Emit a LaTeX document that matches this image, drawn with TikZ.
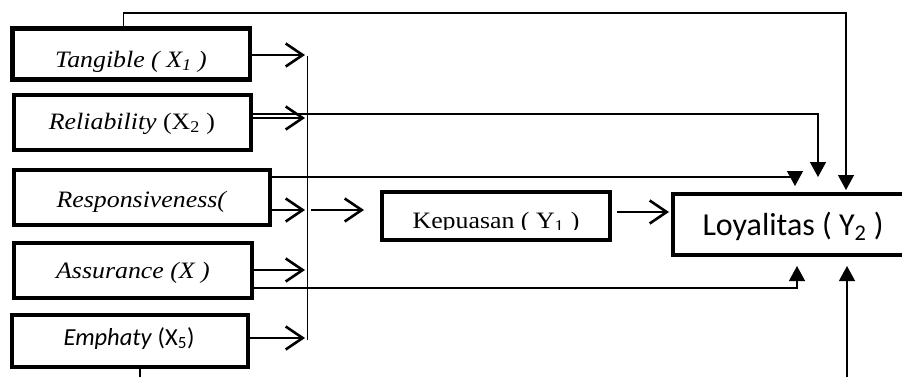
\documentclass[tikz,border=0pt]{standalone}
\usepackage{fontspec}
\setmainfont{Liberation Serif}
\newfontfamily\calibri{Carlito}
\usetikzlibrary{arrows.meta}
\newcommand\wide[2][1.1]{\scalebox{#1}[1]{#2}}
\begin{document}
\begin{tikzpicture}[x=1pt,y=-1pt,
  box/.style={draw, line width=4.8pt, inner sep=0pt, outer sep=0pt},
  lbl/.style={anchor=base, inner sep=0pt},
  feed/.style={line width=2pt, -{Straight Barb[length=17pt,width=23pt,line width=2.6pt]}},
  hit/.style={line width=1.3pt, -{Triangle[length=15pt,width=16pt]}},
  tnr/.style={font=\fontsize{23.5}{27}\selectfont},
]
\useasboundingbox (0,0) rectangle (902,376);
\clip (0,0) rectangle (902,376);

% boxes
\node[box, minimum width=237.5pt, minimum height=51pt] (T) at (131.25,54) {};
\node[box, minimum width=237pt, minimum height=55pt] (R) at (132.5,122.5) {};
\node[box, minimum width=256pt, minimum height=55pt] (S) at (142,197.5) {};
\node[box, minimum width=238pt, minimum height=55pt] (A) at (133,270.5) {};
\node[box, minimum width=236pt, minimum height=52pt] (E) at (130,341) {};
\node[box, minimum width=228pt, minimum height=48pt] (K) at (496,216) {};
\node[box, minimum width=239pt, minimum height=61pt] (L) at (792.5,224.5) {};

% texts
\node[lbl, tnr] (Tt) at (131,67) {\wide{\itshape Tangible ( X\textsubscript{1} )}};
\node[lbl, tnr] (Rt) at (132,129) {\wide{\textit{Reliability} (X\textsubscript{2} )}};
\node[lbl, tnr] (St) at (142,207) {\wide{\textit{Responsiveness(}}};
\node[lbl, tnr] (At) at (133,278) {\wide{\textit{Assurance (X )}}};
\node[lbl, font=\fontsize{24.5}{28}\selectfont\calibri] (Et) at (129,345) {\textit{Emphaty} (X\textsubscript{5})};
\begin{scope}
  \clip (384,194) rectangle (608,229);
  \node[lbl, tnr] (Kt) at (496,228) {\wide{Kepuasan ( Y\textsubscript{1} )}};
\end{scope}
\node[lbl, font=\fontsize{32}{36}\selectfont\calibri] (Lt) at (793,235) {Loyalitas ( Y\textsubscript{2} )};

% bus
\coordinate (busTop) at (307,56);
\coordinate (busBot) at (307,340);
\draw[line width=1pt] (busTop) -- (busBot);
\coordinate (b1) at (305,55);
\coordinate (b2) at (305,118);
\coordinate (b3) at (305,210);
\coordinate (b4) at (305,270);
\coordinate (b5) at (305,338);
\draw[feed] (T.east |- b1) -- (b1);
\draw[feed] (R.east |- b2) -- (b2);
\draw[feed] (S.east |- b3) -- (b3);
\draw[feed] (A.east |- b4) -- (b4);
\draw[feed] (E.east |- b5) -- (b5);

% bus to Kepuasan, Kepuasan to Loyalitas
\coordinate (k0) at (311,210);
\draw[feed, shorten >=18pt] (k0) -- (K.west |- k0);
\coordinate (kl) at (0,212);
\draw[feed, shorten <=7pt, shorten >=4pt] (K.east |- kl) -- (L.west |- kl);

% direct paths into Loyalitas
\coordinate (topR) at (846,13);
\coordinate (tT) at (846,190);
\draw[hit] ([xshift=-8pt]T.north) -- ([xshift=-8pt]T.north |- topR) -- (topR) -- (tT);
\coordinate (rl) at (818,114);
\coordinate (tR) at (818,177);
\draw[hit] (R.east |- rl) -- (rl) -- (tR);
\coordinate (sl) at (795,177);
\coordinate (tS) at (795,186);
\draw[hit] (S.east |- sl) -- (sl) -- (tS);
\coordinate (al) at (797,288);
\coordinate (tA) at (797,266);
\draw[hit] (A.east |- al) -- (al) -- (tA);
\coordinate (el) at (847,395);
\coordinate (tE) at (847,266);
\draw[hit] ([xshift=10pt]E.south) -- ([xshift=10pt]E.south |- el) -- (el) -- (tE);
\end{tikzpicture}
\end{document}
